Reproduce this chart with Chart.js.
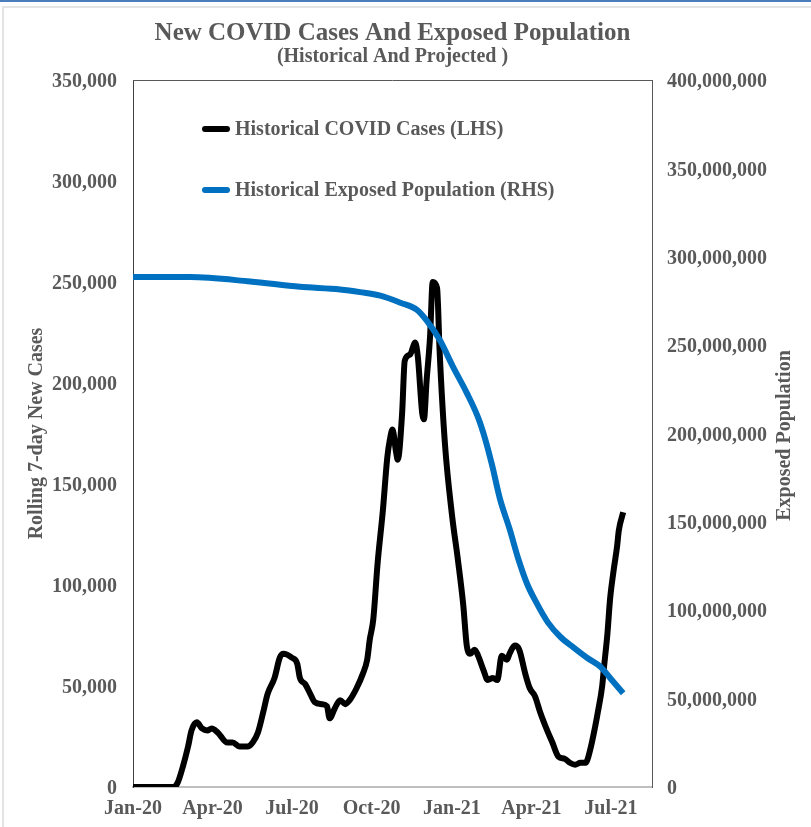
<!DOCTYPE html>
<html lang="en">
<head>
  <meta charset="UTF-8">
  <title>New COVID Cases And Exposed Population</title>
  <script src="https://cdn.jsdelivr.net/npm/chart.js"></script>
  <style>
    html, body {
      margin: 0;
      padding: 0;
      background: #fff;
    }

    .frame {
      position: relative;
      width: 811px;
      height: 827px;
      overflow: hidden;
    }

    .topbar {
      position: absolute;
      left: 0; top: 0; right: 0;
      height: 2px;
      background: #4a7ebb;
    }

    .sheet {
      position: absolute;
      left: 2px; top: 6px; right: -4px; bottom: -4px;
      border-top: 2px solid #e4e4e4;
      border-left: 2px solid #e4e4e4;
    }

    canvas {
      position: absolute;
      left: 0; top: 0;
    }
  </style>
</head>
<body>

<div class="frame">
  <div class="topbar"></div>
  <div class="sheet"></div>
  <canvas id="covidChart" width="811" height="827"></canvas>
</div>

<script>
  // days counted from the first data point (22 Jan 2020)
  const tickDays   = [0, 91, 182, 273, 365, 456, 547];
  const tickLabels = ['Jan-20', 'Apr-20', 'Jul-20', 'Oct-20', 'Jan-21', 'Apr-21', 'Jul-21'];

  // Historical COVID cases, rolling 7-day (LHS)
  const caseDays = [0, 46, 51, 57, 63, 67, 73, 79, 85, 90, 97, 108, 114, 122, 131, 137, 143, 149, 154, 162,
                    168, 172, 182, 188, 191, 197, 203, 208, 216, 222, 225, 231, 237, 243, 248, 256, 263, 268,
                    271, 275, 280, 286, 291, 294, 297, 301, 303, 308, 311, 317, 323, 326, 331, 333, 336, 340,
                    343, 348, 351, 357, 365, 372, 378, 382, 386, 391, 395, 401, 406, 412, 417, 422, 428, 431,
                    437, 442, 449, 454, 460, 466, 474, 480, 487, 494, 500, 506, 512, 518, 523, 529, 532, 537,
                    539, 543, 546, 550, 554, 556, 561];
  const caseValues = [0, 0, 2000, 10000, 20000, 28000, 32000, 29000, 28000, 29000, 27000, 22000, 22000, 20000,
                      20000, 22000, 27000, 37000, 46000, 54000, 64000, 66000, 64000, 61000, 54000, 51000, 46000,
                      42000, 41000, 40000, 34000, 39000, 43000, 41000, 43000, 49000, 56000, 63000, 73000, 83000,
                      111000, 137000, 163000, 172000, 177000, 166000, 162000, 185000, 211000, 214000, 220000,
                      213000, 185000, 182000, 201000, 223000, 250000, 247000, 215000, 170000, 135000, 112000,
                      90000, 70000, 66000, 68000, 65000, 58000, 53000, 54000, 53000, 65000, 63000, 66000, 70000,
                      68000, 56000, 49000, 45000, 37000, 28000, 22000, 15000, 14000, 12000, 11000, 12000, 12000,
                      18000, 30000, 37000, 50000, 59000, 76000, 93000, 107000, 119000, 127000, 136000];

  // Historical exposed population (RHS)
  const popDays   = [0, 65, 134, 191, 237, 260, 283, 306, 325, 336, 351, 366, 382, 395, 403, 411, 420, 431,
                     441, 451, 462, 475, 489, 504, 520, 535, 548, 561];
  const popValues = [288500000, 288500000, 286000000, 283000000, 281500000, 280000000, 278000000, 274000000,
                     270000000, 264000000, 253000000, 238000000, 223000000, 209000000, 197000000, 182000000,
                     163000000, 146000000, 129000000, 115000000, 104000000, 93000000, 85000000, 79000000,
                     73000000, 68000000, 60500000, 53000000];

  const grey  = '#595959';
  const serif = "'Liberation Serif', 'Times New Roman', serif";
  const labelFont = { family: serif, size: 20, weight: 'bold' };

  // plot frame top edge, upward right-hand title, legend inside the plot
  const decorations = {
    id: 'decorations',
    afterDraw(chart) {
      const { ctx, chartArea: a } = chart;
      ctx.save();
      ctx.strokeStyle = grey;
      ctx.lineWidth = 1;
      ctx.beginPath();
      ctx.moveTo(a.left, a.top + 0.5);
      ctx.lineTo(a.right, a.top + 0.5);
      ctx.stroke();

      ctx.font = 'bold 20px ' + serif;
      ctx.fillStyle = grey;
      ctx.textBaseline = 'middle';

      chart.data.datasets.forEach((ds, i) => {
        const y = a.top + 49 + i * 61;
        ctx.strokeStyle = ds.borderColor;
        ctx.lineWidth = 6;
        ctx.lineCap = 'round';
        ctx.beginPath();
        ctx.moveTo(a.left + 72, y);
        ctx.lineTo(a.left + 94, y);
        ctx.stroke();
        ctx.textAlign = 'left';
        ctx.fillText(ds.label, a.left + 102, y + 1);
      });

      ctx.translate(785, (a.top + a.bottom) / 2 + 2);
      ctx.rotate(-Math.PI / 2);
      ctx.textAlign = 'center';
      ctx.fillText('Exposed Population', 0, 0);
      ctx.restore();
    }
  };

  const ctx = document.getElementById('covidChart').getContext('2d');

  new Chart(ctx, {
    type: 'line',
    data: {
      datasets: [{
        label: 'Historical COVID Cases (LHS)',
        data: caseDays.map((d, i) => ({ x: d, y: caseValues[i] })),
        yAxisID: 'yCases',
        borderColor: '#000000',
        borderWidth: 6,
        cubicInterpolationMode: 'monotone',
        borderJoinStyle: 'round',
        pointRadius: 0,
        order: 1
      }, {
        label: 'Historical Exposed Population (RHS)',
        data: popDays.map((d, i) => ({ x: d, y: popValues[i] })),
        yAxisID: 'yPop',
        borderColor: '#0070C0',
        borderWidth: 6,
        cubicInterpolationMode: 'monotone',
        borderJoinStyle: 'round',
        pointRadius: 0,
        order: 0
      }]
    },
    options: {
      responsive: false,
      animation: false,
      layout: { padding: 0 },
      scales: {
        x: {
          type: 'linear',
          min: 0,
          max: 594,
          afterBuildTicks: axis => {
            axis.ticks = tickDays.map(v => ({ value: v }));
          },
          afterFit: axis => { axis.height = 40; },
          ticks: {
            callback: v => tickLabels[tickDays.indexOf(v)],
            autoSkip: false,
            maxRotation: 0,
            padding: 10,
            color: grey,
            font: labelFont
          },
          grid: { display: false, drawTicks: false },
          border: { color: '#BFBFBF', width: 2 }
        },
        yCases: {
          position: 'left',
          min: 0,
          max: 350000,
          afterFit: axis => { axis.width = 133; },
          ticks: {
            stepSize: 50000,
            callback: v => v.toLocaleString('en-US'),
            padding: 16,
            labelOffset: 2,
            color: grey,
            font: labelFont
          },
          grid: { display: false, drawTicks: false },
          border: { color: '#404040', width: 1 },
          title: {
            display: true,
            text: 'Rolling 7-day New Cases',
            color: grey,
            font: labelFont,
            padding: { top: 25, bottom: 0 }
          }
        },
        yPop: {
          position: 'right',
          min: 0,
          max: 400000000,
          afterFit: axis => { axis.width = 159; },
          ticks: {
            stepSize: 50000000,
            callback: v => v.toLocaleString('en-US'),
            padding: 15,
            labelOffset: 2,
            color: grey,
            font: labelFont
          },
          grid: { display: false, drawTicks: false },
          border: { color: grey, width: 1 }
        }
      },
      plugins: {
        legend: { display: false },
        tooltip: { enabled: false },
        title: {
          display: true,
          text: 'New COVID Cases And Exposed Population',
          fullSize: false,
          color: grey,
          font: { family: serif, size: 25, weight: 'bold', lineHeight: 1 },
          padding: { top: 21, bottom: 0 }
        },
        subtitle: {
          display: true,
          text: '(Historical And Projected )',
          fullSize: false,
          color: grey,
          font: { family: serif, size: 20, weight: 'bold', lineHeight: 1 },
          padding: { top: 1, bottom: 13 }
        }
      }
    },
    plugins: [decorations]
  });
</script>

</body>
</html>
